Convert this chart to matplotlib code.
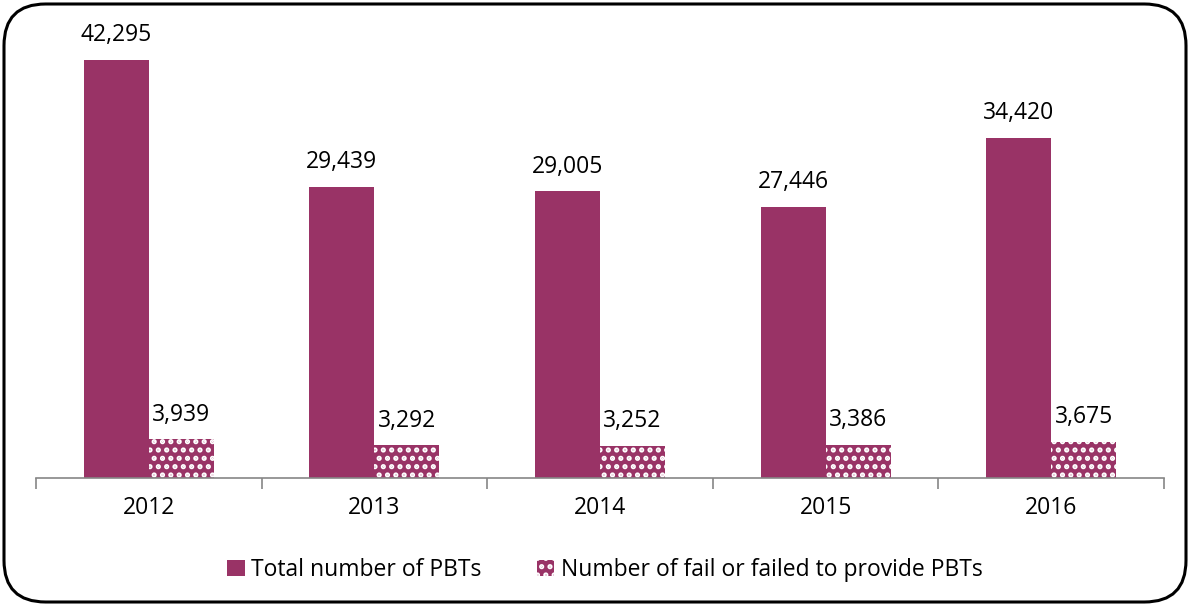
import matplotlib
matplotlib.use("Agg")
import matplotlib.pyplot as plt
from matplotlib.patches import FancyBboxPatch
import numpy as np

years = ["2012", "2013", "2014", "2015", "2016"]
total_pbts = [42295, 29439, 29005, 27446, 34420]
failed_pbts = [3939, 3292, 3252, 3386, 3675]
series_names = ["Total number of PBTs", "Number of fail or failed to provide PBTs"]

plt.rcParams['font.family'] = ['Open Sans', 'DejaVu Sans']
plt.rcParams['hatch.linewidth'] = 2.5
color = "#993366"

fig = plt.figure(figsize=(11.9, 6.06), dpi=100)
ax = fig.add_axes([36/1190, 1-478/606, 1128/1190, 445/606])

x = np.arange(len(years))
w = 0.288
b1 = ax.bar(x - w/2, total_pbts, w, color=color, label=series_names[0])
b2 = ax.bar(x + w/2, failed_pbts, w, color=color, edgecolor="white", linewidth=0,
            hatch="..", label=series_names[1])

for bars, vals in ((b1, total_pbts), (b2, failed_pbts)):
    for r, v in zip(bars, vals):
        ax.annotate(f"{v:,}", (r.get_x() + r.get_width()/2, v), xytext=(0, 9),
                    textcoords="offset points", ha="center", va="bottom",
                    fontsize=16.5, color="#000000")

ax.set_xlim(-0.5, len(years) - 0.5)
ax.set_ylim(0, 45000)
ax.set_yticks([])
for s in ("top", "right", "left"):
    ax.spines[s].set_visible(False)
ax.spines["bottom"].set_color("#868686")
ax.spines["bottom"].set_linewidth(1.2)
ax.set_xticks(np.arange(-0.5, len(years)), minor=False)
ax.set_xticklabels([])
ax.set_xticks(x, minor=True)
ax.set_xticklabels(years, minor=True, fontsize=16.5)
ax.tick_params(axis="x", which="major", length=8, color="#868686", width=1.2, direction="out")
ax.tick_params(axis="x", which="minor", length=0, pad=13)

leg = fig.legend(handles=[b1, b2], labels=series_names, loc="center",
                 bbox_to_anchor=(0.5 + 10/1190, 1-570/606), ncol=2, frameon=False,
                 fontsize=16.5, handlelength=0.75, handleheight=0.75,
                 handletextpad=0.3, columnspacing=2.4)

border = FancyBboxPatch((4/1190, 4/606), 1182/1190, 598/606,
                        boxstyle="round,pad=0,rounding_size=0.035",
                        transform=fig.transFigure, facecolor="none",
                        edgecolor="black", linewidth=2.2, mutation_aspect=1190/606)
fig.patches.append(border)

fig.savefig("out.png", dpi=100)
